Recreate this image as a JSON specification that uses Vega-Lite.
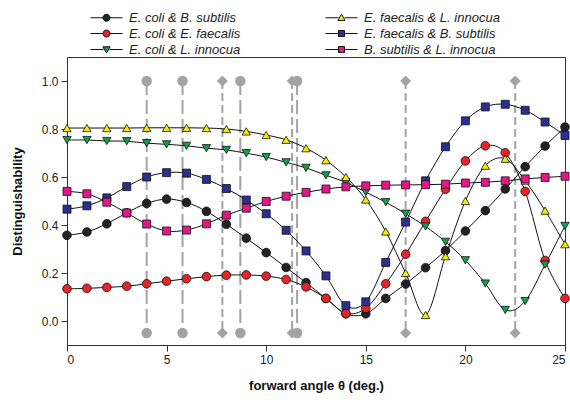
{
  "$schema": "https://vega.github.io/schema/vega-lite/v6.json",
  "width": 498,
  "height": 288,
  "autosize": {"type": "none", "resize": false},
  "padding": {"left": 67, "top": 57, "right": 5, "bottom": 58},
  "background": "white",
  "config": {
    "font": "Liberation Sans",
    "view": {"stroke": "#333", "strokeWidth": 1},
    "axis": {"grid": false, "domainColor": "#333", "tickColor": "#333", "labelColor": "#222", "labelFont": "Liberation Sans", "labelFontSize": 12, "titleFont": "Liberation Sans", "titleFontSize": 13, "titleFontWeight": "bold", "titleColor": "#111", "tickSize": 6}
  },
  "datasets": {
    "curves": [
      {"series": "E. coli & B. subtilis", "x": 0, "y": 0.357}, {"series": "E. coli & B. subtilis", "x": 1, "y": 0.371}, {"series": "E. coli & B. subtilis", "x": 2, "y": 0.405}, {"series": "E. coli & B. subtilis", "x": 3, "y": 0.451}, {"series": "E. coli & B. subtilis", "x": 4, "y": 0.49}, {"series": "E. coli & B. subtilis", "x": 5, "y": 0.508}, {"series": "E. coli & B. subtilis", "x": 6, "y": 0.494}, {"series": "E. coli & B. subtilis", "x": 7, "y": 0.457}, {"series": "E. coli & B. subtilis", "x": 8, "y": 0.403}, {"series": "E. coli & B. subtilis", "x": 9, "y": 0.345}, {"series": "E. coli & B. subtilis", "x": 10, "y": 0.285}, {"series": "E. coli & B. subtilis", "x": 11, "y": 0.223}, {"series": "E. coli & B. subtilis", "x": 12, "y": 0.16}, {"series": "E. coli & B. subtilis", "x": 13, "y": 0.094}, {"series": "E. coli & B. subtilis", "x": 14, "y": 0.03}, {"series": "E. coli & B. subtilis", "x": 15, "y": 0.03}, {"series": "E. coli & B. subtilis", "x": 16, "y": 0.094}, {"series": "E. coli & B. subtilis", "x": 17, "y": 0.154}, {"series": "E. coli & B. subtilis", "x": 18, "y": 0.222}, {"series": "E. coli & B. subtilis", "x": 19, "y": 0.293}, {"series": "E. coli & B. subtilis", "x": 20, "y": 0.375}, {"series": "E. coli & B. subtilis", "x": 21, "y": 0.46}, {"series": "E. coli & B. subtilis", "x": 22, "y": 0.55}, {"series": "E. coli & B. subtilis", "x": 23, "y": 0.643}, {"series": "E. coli & B. subtilis", "x": 24, "y": 0.729}, {"series": "E. coli & B. subtilis", "x": 25, "y": 0.808},
      {"series": "E. coli & E. faecalis", "x": 0, "y": 0.134}, {"series": "E. coli & E. faecalis", "x": 1, "y": 0.136}, {"series": "E. coli & E. faecalis", "x": 2, "y": 0.14}, {"series": "E. coli & E. faecalis", "x": 3, "y": 0.145}, {"series": "E. coli & E. faecalis", "x": 4, "y": 0.155}, {"series": "E. coli & E. faecalis", "x": 5, "y": 0.166}, {"series": "E. coli & E. faecalis", "x": 6, "y": 0.176}, {"series": "E. coli & E. faecalis", "x": 7, "y": 0.185}, {"series": "E. coli & E. faecalis", "x": 8, "y": 0.191}, {"series": "E. coli & E. faecalis", "x": 9, "y": 0.192}, {"series": "E. coli & E. faecalis", "x": 10, "y": 0.187}, {"series": "E. coli & E. faecalis", "x": 11, "y": 0.173}, {"series": "E. coli & E. faecalis", "x": 12, "y": 0.142}, {"series": "E. coli & E. faecalis", "x": 13, "y": 0.094}, {"series": "E. coli & E. faecalis", "x": 14, "y": 0.032}, {"series": "E. coli & E. faecalis", "x": 15, "y": 0.053}, {"series": "E. coli & E. faecalis", "x": 16, "y": 0.155}, {"series": "E. coli & E. faecalis", "x": 17, "y": 0.278}, {"series": "E. coli & E. faecalis", "x": 18, "y": 0.415}, {"series": "E. coli & E. faecalis", "x": 19, "y": 0.549}, {"series": "E. coli & E. faecalis", "x": 20, "y": 0.667}, {"series": "E. coli & E. faecalis", "x": 21, "y": 0.73}, {"series": "E. coli & E. faecalis", "x": 22, "y": 0.701}, {"series": "E. coli & E. faecalis", "x": 23, "y": 0.54}, {"series": "E. coli & E. faecalis", "x": 24, "y": 0.252}, {"series": "E. coli & E. faecalis", "x": 25, "y": 0.094},
      {"series": "E. coli & L. innocua", "x": 0, "y": 0.754}, {"series": "E. coli & L. innocua", "x": 1, "y": 0.754}, {"series": "E. coli & L. innocua", "x": 2, "y": 0.75}, {"series": "E. coli & L. innocua", "x": 3, "y": 0.749}, {"series": "E. coli & L. innocua", "x": 4, "y": 0.741}, {"series": "E. coli & L. innocua", "x": 5, "y": 0.736}, {"series": "E. coli & L. innocua", "x": 6, "y": 0.73}, {"series": "E. coli & L. innocua", "x": 7, "y": 0.72}, {"series": "E. coli & L. innocua", "x": 8, "y": 0.713}, {"series": "E. coli & L. innocua", "x": 9, "y": 0.699}, {"series": "E. coli & L. innocua", "x": 10, "y": 0.683}, {"series": "E. coli & L. innocua", "x": 11, "y": 0.661}, {"series": "E. coli & L. innocua", "x": 12, "y": 0.638}, {"series": "E. coli & L. innocua", "x": 13, "y": 0.607}, {"series": "E. coli & L. innocua", "x": 14, "y": 0.578}, {"series": "E. coli & L. innocua", "x": 15, "y": 0.537}, {"series": "E. coli & L. innocua", "x": 16, "y": 0.495}, {"series": "E. coli & L. innocua", "x": 17, "y": 0.447}, {"series": "E. coli & L. innocua", "x": 18, "y": 0.394}, {"series": "E. coli & L. innocua", "x": 19, "y": 0.33}, {"series": "E. coli & L. innocua", "x": 20, "y": 0.253}, {"series": "E. coli & L. innocua", "x": 21, "y": 0.156}, {"series": "E. coli & L. innocua", "x": 22, "y": 0.046}, {"series": "E. coli & L. innocua", "x": 23, "y": 0.083}, {"series": "E. coli & L. innocua", "x": 24, "y": 0.235}, {"series": "E. coli & L. innocua", "x": 25, "y": 0.396},
      {"series": "E. faecalis & L. innocua", "x": 0, "y": 0.804}, {"series": "E. faecalis & L. innocua", "x": 1, "y": 0.804}, {"series": "E. faecalis & L. innocua", "x": 2, "y": 0.804}, {"series": "E. faecalis & L. innocua", "x": 3, "y": 0.804}, {"series": "E. faecalis & L. innocua", "x": 4, "y": 0.805}, {"series": "E. faecalis & L. innocua", "x": 5, "y": 0.805}, {"series": "E. faecalis & L. innocua", "x": 6, "y": 0.805}, {"series": "E. faecalis & L. innocua", "x": 7, "y": 0.804}, {"series": "E. faecalis & L. innocua", "x": 8, "y": 0.8}, {"series": "E. faecalis & L. innocua", "x": 9, "y": 0.79}, {"series": "E. faecalis & L. innocua", "x": 10, "y": 0.775}, {"series": "E. faecalis & L. innocua", "x": 11, "y": 0.755}, {"series": "E. faecalis & L. innocua", "x": 12, "y": 0.72}, {"series": "E. faecalis & L. innocua", "x": 13, "y": 0.67}, {"series": "E. faecalis & L. innocua", "x": 14, "y": 0.6}, {"series": "E. faecalis & L. innocua", "x": 15, "y": 0.506}, {"series": "E. faecalis & L. innocua", "x": 16, "y": 0.373}, {"series": "E. faecalis & L. innocua", "x": 17, "y": 0.2}, {"series": "E. faecalis & L. innocua", "x": 18, "y": 0.025}, {"series": "E. faecalis & L. innocua", "x": 19, "y": 0.27}, {"series": "E. faecalis & L. innocua", "x": 20, "y": 0.5}, {"series": "E. faecalis & L. innocua", "x": 21, "y": 0.647}, {"series": "E. faecalis & L. innocua", "x": 22, "y": 0.676}, {"series": "E. faecalis & L. innocua", "x": 23, "y": 0.585}, {"series": "E. faecalis & L. innocua", "x": 24, "y": 0.46}, {"series": "E. faecalis & L. innocua", "x": 25, "y": 0.32},
      {"series": "E. faecalis & B. subtilis", "x": 0, "y": 0.466}, {"series": "E. faecalis & B. subtilis", "x": 1, "y": 0.48}, {"series": "E. faecalis & B. subtilis", "x": 2, "y": 0.513}, {"series": "E. faecalis & B. subtilis", "x": 3, "y": 0.56}, {"series": "E. faecalis & B. subtilis", "x": 4, "y": 0.6}, {"series": "E. faecalis & B. subtilis", "x": 5, "y": 0.618}, {"series": "E. faecalis & B. subtilis", "x": 6, "y": 0.616}, {"series": "E. faecalis & B. subtilis", "x": 7, "y": 0.59}, {"series": "E. faecalis & B. subtilis", "x": 8, "y": 0.552}, {"series": "E. faecalis & B. subtilis", "x": 9, "y": 0.504}, {"series": "E. faecalis & B. subtilis", "x": 10, "y": 0.447}, {"series": "E. faecalis & B. subtilis", "x": 11, "y": 0.378}, {"series": "E. faecalis & B. subtilis", "x": 12, "y": 0.292}, {"series": "E. faecalis & B. subtilis", "x": 13, "y": 0.188}, {"series": "E. faecalis & B. subtilis", "x": 14, "y": 0.064}, {"series": "E. faecalis & B. subtilis", "x": 15, "y": 0.08}, {"series": "E. faecalis & B. subtilis", "x": 16, "y": 0.244}, {"series": "E. faecalis & B. subtilis", "x": 17, "y": 0.412}, {"series": "E. faecalis & B. subtilis", "x": 18, "y": 0.584}, {"series": "E. faecalis & B. subtilis", "x": 19, "y": 0.726}, {"series": "E. faecalis & B. subtilis", "x": 20, "y": 0.834}, {"series": "E. faecalis & B. subtilis", "x": 21, "y": 0.892}, {"series": "E. faecalis & B. subtilis", "x": 22, "y": 0.903}, {"series": "E. faecalis & B. subtilis", "x": 23, "y": 0.878}, {"series": "E. faecalis & B. subtilis", "x": 24, "y": 0.829}, {"series": "E. faecalis & B. subtilis", "x": 25, "y": 0.773},
      {"series": "B. subtilis & L. innocua", "x": 0, "y": 0.54}, {"series": "B. subtilis & L. innocua", "x": 1, "y": 0.53}, {"series": "B. subtilis & L. innocua", "x": 2, "y": 0.495}, {"series": "B. subtilis & L. innocua", "x": 3, "y": 0.45}, {"series": "B. subtilis & L. innocua", "x": 4, "y": 0.404}, {"series": "B. subtilis & L. innocua", "x": 5, "y": 0.375}, {"series": "B. subtilis & L. innocua", "x": 6, "y": 0.379}, {"series": "B. subtilis & L. innocua", "x": 7, "y": 0.405}, {"series": "B. subtilis & L. innocua", "x": 8, "y": 0.441}, {"series": "B. subtilis & L. innocua", "x": 9, "y": 0.47}, {"series": "B. subtilis & L. innocua", "x": 10, "y": 0.498}, {"series": "B. subtilis & L. innocua", "x": 11, "y": 0.52}, {"series": "B. subtilis & L. innocua", "x": 12, "y": 0.536}, {"series": "B. subtilis & L. innocua", "x": 13, "y": 0.55}, {"series": "B. subtilis & L. innocua", "x": 14, "y": 0.559}, {"series": "B. subtilis & L. innocua", "x": 15, "y": 0.563}, {"series": "B. subtilis & L. innocua", "x": 16, "y": 0.566}, {"series": "B. subtilis & L. innocua", "x": 17, "y": 0.567}, {"series": "B. subtilis & L. innocua", "x": 18, "y": 0.568}, {"series": "B. subtilis & L. innocua", "x": 19, "y": 0.57}, {"series": "B. subtilis & L. innocua", "x": 20, "y": 0.575}, {"series": "B. subtilis & L. innocua", "x": 21, "y": 0.578}, {"series": "B. subtilis & L. innocua", "x": 22, "y": 0.584}, {"series": "B. subtilis & L. innocua", "x": 23, "y": 0.592}, {"series": "B. subtilis & L. innocua", "x": 24, "y": 0.598}, {"series": "B. subtilis & L. innocua", "x": 25, "y": 0.603}
    ],
    "refs": [
      {"angle": 4.0, "kind": "circle", "top": 1.0, "bottom": -0.05},
      {"angle": 5.8, "kind": "circle", "top": 1.0, "bottom": -0.05},
      {"angle": 7.8, "kind": "diamond", "top": 1.0, "bottom": -0.05},
      {"angle": 8.7, "kind": "circle", "top": 1.0, "bottom": -0.05},
      {"angle": 11.3, "kind": "diamond", "top": 1.0, "bottom": -0.05},
      {"angle": 11.55, "kind": "circle", "top": 1.0, "bottom": -0.05},
      {"angle": 17.0, "kind": "diamond", "top": 1.0, "bottom": -0.05},
      {"angle": 22.5, "kind": "diamond", "top": 1.0, "bottom": -0.05}
    ]
  },
  "layer": [
    {
      "data": {"name": "refs"},
      "mark": {"type": "rule", "color": "#a3a3a3", "strokeWidth": 2},
      "encoding": {
        "x": {"field": "angle", "type": "quantitative"},
        "y": {"field": "top", "type": "quantitative"},
        "y2": {"field": "bottom"},
        "strokeDash": {"field": "kind", "type": "nominal", "scale": {"domain": ["circle", "diamond"], "range": [[14, 5], [8, 4]]}, "legend": null}
      }
    },
    {
      "data": {"name": "refs"},
      "transform": [{"filter": "datum.kind === 'circle'"}],
      "mark": {"type": "point", "shape": "circle", "filled": true, "color": "#a3a3a3", "size": 110, "opacity": 1},
      "encoding": {"x": {"field": "angle", "type": "quantitative"}, "y": {"field": "top", "type": "quantitative"}}
    },
    {
      "data": {"name": "refs"},
      "transform": [{"filter": "datum.kind === 'circle'"}],
      "mark": {"type": "point", "shape": "circle", "filled": true, "color": "#a3a3a3", "size": 110, "opacity": 1},
      "encoding": {"x": {"field": "angle", "type": "quantitative"}, "y": {"field": "bottom", "type": "quantitative"}}
    },
    {
      "data": {"name": "refs"},
      "transform": [{"filter": "datum.kind === 'diamond'"}],
      "mark": {"type": "point", "shape": "diamond", "filled": true, "color": "#a3a3a3", "size": 120, "opacity": 1},
      "encoding": {"x": {"field": "angle", "type": "quantitative"}, "y": {"field": "top", "type": "quantitative"}}
    },
    {
      "data": {"name": "refs"},
      "transform": [{"filter": "datum.kind === 'diamond'"}],
      "mark": {"type": "point", "shape": "diamond", "filled": true, "color": "#a3a3a3", "size": 120, "opacity": 1},
      "encoding": {"x": {"field": "angle", "type": "quantitative"}, "y": {"field": "bottom", "type": "quantitative"}}
    },
    {
      "data": {"name": "curves"},
      "mark": {"type": "line", "color": "#111", "strokeWidth": 1, "interpolate": "cardinal"},
      "encoding": {
        "x": {"field": "x", "type": "quantitative"},
        "y": {"field": "y", "type": "quantitative"},
        "detail": {"field": "series", "type": "nominal"}
      }
    },
    {
      "data": {"name": "curves"},
      "encoding": {
        "x": {"field": "x", "type": "quantitative", "scale": {"domain": [0, 25], "nice": false, "zero": false, "padding": 0}, "axis": {"values": [0, 5, 10, 15, 20, 25], "title": "forward angle θ (deg.)", "labelPadding": 3, "titlePadding": 14}},
        "y": {"field": "y", "type": "quantitative", "scale": {"domain": [-0.1, 1.1], "nice": false, "padding": 0}, "axis": {"values": [0, 0.2, 0.4, 0.6, 0.8, 1.0], "format": ".1f", "title": "Distinguishability", "labelPadding": 3, "titlePadding": 17}},
        "fill": {"field": "series", "type": "nominal",
          "scale": {"domain": ["E. coli & B. subtilis", "E. faecalis & L. innocua", "E. coli & E. faecalis", "E. faecalis & B. subtilis", "E. coli & L. innocua", "B. subtilis & L. innocua"],
                    "range": ["#222222", "#f5ec00", "#e8232a", "#2b2f8f", "#12a04a", "#e6168a"]},
          "legend": {"orient": "none", "legendX": 33, "legendY": -46, "columns": 2, "direction": "horizontal", "title": null, "padding": 0,
            "labelFont": "Liberation Sans", "labelFontSize": 13, "labelFontStyle": "italic", "labelColor": "#222", "labelOffset": 16,
            "symbolSize": 144, "symbolStrokeColor": "#111", "symbolStrokeWidth": 1, "rowPadding": 2, "columnPadding": 82,
            "encoding": {"symbols": {"shape": {"value": {"expr": "(datum.value === 'E. coli & B. subtilis' || datum.value === 'E. coli & E. faecalis') ? 'M-2.67,0H-0.58M0.58,0L0.54,0.22L0.41,0.41L0.22,0.54L0,0.58L-0.22,0.54L-0.41,0.41L-0.54,0.22L-0.58,0L-0.54,-0.22L-0.41,-0.41L-0.22,-0.54L0,-0.58L0.22,-0.54L0.41,-0.41L0.54,-0.22ZM0.58,0H2.67' : datum.value === 'E. coli & L. innocua' ? 'M-2.67,0H-0.5M0.5,0H2.67M-0.6,-0.45H0.6L0,0.6Z' : datum.value === 'E. faecalis & L. innocua' ? 'M-2.67,0H-0.5M0.5,0H2.67M0,-0.6L0.6,0.45H-0.6Z' : 'M-2.67,0H-0.5M0.5,0H2.67M-0.5,-0.5H0.5V0.5H-0.5Z'"}}}}
          }}
      },
      "layer": [
        {
          "transform": [{"filter": "datum.series === 'E. coli & B. subtilis' || datum.series === 'E. coli & E. faecalis'"}],
          "mark": {"type": "point", "shape": "circle", "filled": true, "stroke": "#111", "strokeWidth": 0.8, "size": 75, "opacity": 1}
        },
        {
          "transform": [{"filter": "datum.series === 'E. coli & L. innocua'"}],
          "mark": {"type": "point", "shape": "triangle-down", "filled": true, "stroke": "#111", "strokeWidth": 0.8, "size": 70, "opacity": 1}
        },
        {
          "transform": [{"filter": "datum.series === 'E. faecalis & L. innocua'"}],
          "mark": {"type": "point", "shape": "triangle-up", "filled": true, "stroke": "#111", "strokeWidth": 0.8, "size": 70, "opacity": 1}
        },
        {
          "transform": [{"filter": "datum.series === 'E. faecalis & B. subtilis' || datum.series === 'B. subtilis & L. innocua'"}],
          "mark": {"type": "point", "shape": "square", "filled": true, "stroke": "#111", "strokeWidth": 0.8, "size": 64, "opacity": 1}
        }
      ]
    }
  ]
}
